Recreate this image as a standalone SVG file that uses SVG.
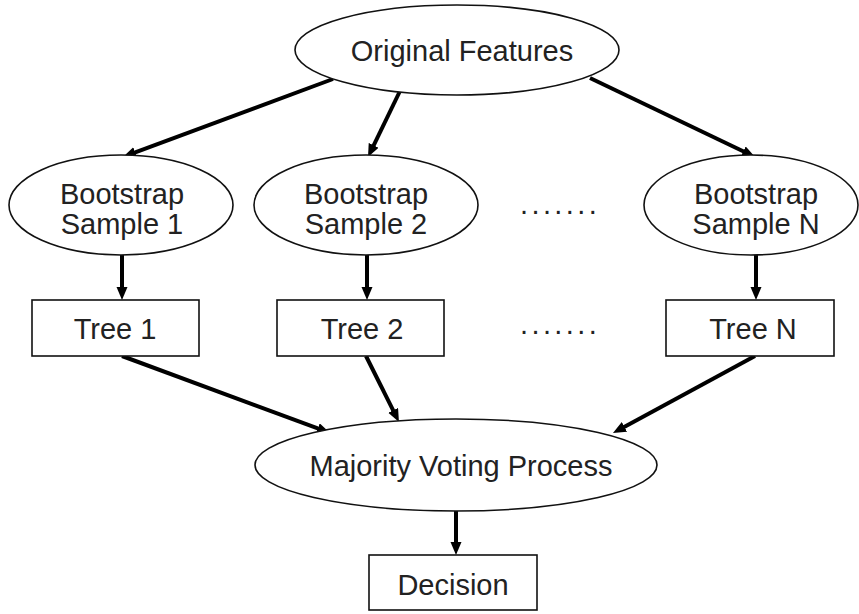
<svg xmlns="http://www.w3.org/2000/svg" width="859" height="614" viewBox="0 0 859 614">
<style>
.shape{fill:#fff;stroke:#111;stroke-width:1.6}
.lbl{font-family:"Liberation Sans",Arial,sans-serif;font-size:29px;fill:#222;text-anchor:middle}
.dots{font-family:"Liberation Sans",Arial,sans-serif;font-size:29px;fill:#222;letter-spacing:3.4px}
.edge{stroke:#000;stroke-width:4;fill:none;marker-end:url(#ah)}
</style>
<defs>
<marker id="ah" markerUnits="userSpaceOnUse" markerWidth="14" markerHeight="12" refX="5" refY="5.5" orient="auto">
<path d="M0,0 L13,5.5 L0,11 z" fill="#000"/>
</marker>
</defs>
<rect width="859" height="614" fill="#fff"/>
<g id="connectors">
<line class="edge" x1="333" y1="79" x2="130.5" y2="154.2"/>
<line class="edge" x1="400" y1="91" x2="371.5" y2="149.8"/>
<line class="edge" x1="590" y1="78" x2="747.8" y2="153.5"/>
<line class="edge" x1="122" y1="255" x2="122" y2="292"/>
<line class="edge" x1="367" y1="255" x2="367" y2="292"/>
<line class="edge" x1="756" y1="255" x2="756" y2="292"/>
<line class="edge" x1="122" y1="356" x2="322.5" y2="430.2"/>
<line class="edge" x1="366" y1="356" x2="395.4" y2="414.8"/>
<line class="edge" x1="755" y1="356" x2="620" y2="429.2"/>
<line class="edge" x1="456" y1="510" x2="456" y2="547"/>
</g>
<g id="original-features">
<ellipse class="shape" cx="457" cy="50" rx="162" ry="45"/>
<text class="lbl" x="462" y="61">Original Features</text>
</g>
<g id="bootstrap-1">
<ellipse class="shape" cx="121" cy="205" rx="112" ry="50"/>
<text class="lbl" x="122" y="204">Bootstrap</text>
<text class="lbl" x="122" y="234">Sample 1</text>
</g>
<g id="bootstrap-2">
<ellipse class="shape" cx="366" cy="205" rx="112" ry="50"/>
<text class="lbl" x="366" y="204">Bootstrap</text>
<text class="lbl" x="366" y="234">Sample 2</text>
</g>
<g id="dots-1">
<text class="dots" x="520" y="214">.......</text>
</g>
<g id="bootstrap-n">
<ellipse class="shape" cx="751" cy="205" rx="107" ry="50"/>
<text class="lbl" x="756" y="204">Bootstrap</text>
<text class="lbl" x="756" y="234">Sample N</text>
</g>
<g id="tree-1">
<rect class="shape" x="32" y="300" width="167" height="56"/>
<text class="lbl" x="115" y="339">Tree 1</text>
</g>
<g id="tree-2">
<rect class="shape" x="277" y="300" width="167" height="56"/>
<text class="lbl" x="362" y="339">Tree 2</text>
</g>
<g id="dots-2">
<text class="dots" x="520" y="334">.......</text>
</g>
<g id="tree-n">
<rect class="shape" x="666" y="300" width="168" height="56"/>
<text class="lbl" x="753" y="339">Tree N</text>
</g>
<g id="majority-voting">
<ellipse class="shape" cx="456" cy="465" rx="201" ry="46"/>
<text class="lbl" x="461" y="476">Majority Voting Process</text>
</g>
<g id="decision">
<rect class="shape" x="369" y="555" width="168" height="55"/>
<text class="lbl" x="453" y="595">Decision</text>
</g>
</svg>
